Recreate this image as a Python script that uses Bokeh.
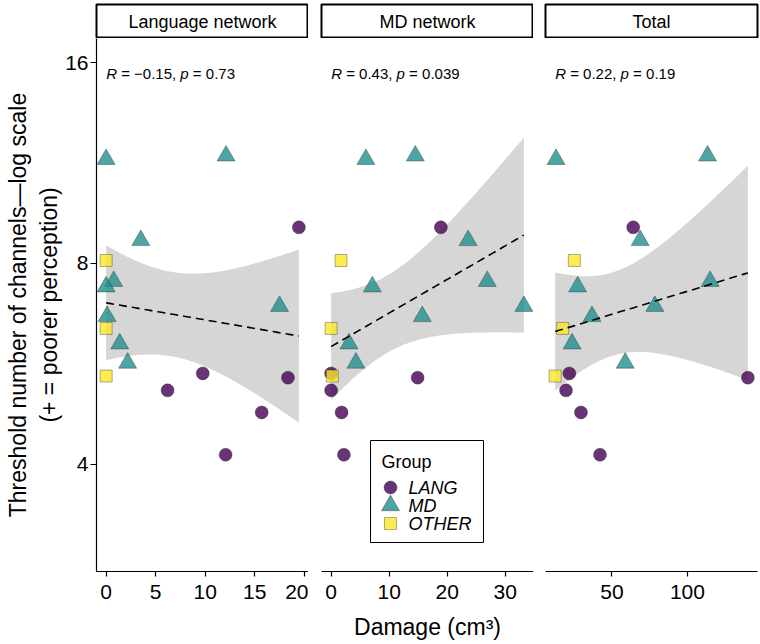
import numpy as np
from bokeh.plotting import figure
from bokeh.layouts import row, column
from bokeh.models import Range1d, FixedTicker, PrintfTickFormatter
from bokeh.core.properties import value
from bokeh.embed import file_html
from bokeh.resources import INLINE

# ---------------- data ----------------
group = ["LANG"] * 6 + ["MD"] * 9 + ["OTHER"] * 3
threshold = [9.06, 5.47, 5.16, 5.39, 4.78, 4.13,
             11.46, 11.6, 8.66, 7.52, 7.38, 6.66, 6.9, 6.06, 5.67,
             8.08, 6.39, 5.42]
damage_lang = [19.45, 9.75, 6.2, 18.35, 15.7, 12.06,
               0.0, 12.1, 3.5, 0.76, 0.0, 0.1, 17.5, 1.37, 2.17,
               0.0, 0.0, 0.0]
damage_md = [18.9, 0.0, 0.0, 14.9, 1.8, 2.2,
             5.98, 14.5, 23.6, 26.9, 7.1, 15.7, 33.2, 3.08, 4.27,
             1.7, 0.0, 0.2]
damage_total = [64.1, 21.8, 19.6, 140.0, 29.5, 42.1,
                13.0, 113.3, 68.7, 115.0, 27.3, 36.8, 78.4, 23.6, 58.8,
                25.1, 17.4, 12.4]
panel_titles = ["Language network", "MD network", "Total"]
r_labels = ["\u22120.15", "0.43", "0.22"]
p_labels = ["0.73", "0.039", "0.19"]
x_tick_sets = [[0, 5, 10, 15, 20], [0, 10, 20, 30], [50, 100]]
y_ticks = [4, 8, 16]
y_limits = [3, 16]
groups = ["LANG", "MD", "OTHER"]
legend_title = "Group"

# ---------------- styling ----------------
FONT = "Liberation Sans"
colors = {"LANG": "#440154", "MD": "#21908C", "OTHER": "#FDE725"}
markers = {"LANG": "circle", "MD": "triangle", "OTHER": "square"}
msize = {"LANG": 13, "MD": 18, "OTHER": 12}
label_y = 15.4
FRAME_W, FRAME_H = 212, 533

# y range: log2 scale with 5% expansion of the limits
l0, l1 = np.log2(y_limits[0]), np.log2(y_limits[1])
ex = 0.05 * (l1 - l0)
y_range = Range1d(2 ** (l0 - ex), 2 ** (l1 + ex))

ARIAL = {' ': 0.278, '=': 0.584, '\u2212': 0.584, '.': 0.278, ',': 0.278,
         'R': 0.722, 'p': 0.556}
for d in "0123456789":
    ARIAL[d] = 0.556


def tw(s, size):
    return sum(ARIAL.get(c, 0.556) for c in s) * size


def fit_band(x, y):
    x = np.asarray(x, float)
    ly = np.log(np.asarray(y, float))
    n = len(x)
    b, a = np.polyfit(x, ly, 1)
    xs = np.linspace(x.min(), x.max(), 120)
    resid = ly - (a + b * x)
    s = np.sqrt(np.sum(resid ** 2) / (n - 2))
    sxx = np.sum((x - x.mean()) ** 2)
    se = s * np.sqrt(1.0 / n + (xs - x.mean()) ** 2 / sxx)
    t = 2.119905  # t(0.975, df=16)
    fit = a + b * xs
    return xs, np.exp(fit), np.exp(fit - t * se), np.exp(fit + t * se)


def style_marks(g):
    return dict(marker=markers[g], size=msize[g], fill_color=colors[g], fill_alpha=0.8,
                line_color="#222222", line_alpha=0.45, line_width=0.8)


damages = [damage_lang, damage_md, damage_total]
borders = [(96, 0), (13, 0), (12, 3)]

columns = []
for i in range(3):
    xd = np.asarray(damages[i], float)
    lo, hi = xd.min(), xd.max()
    pad = 0.05 * (hi - lo)
    xr = Range1d(lo - pad, hi + pad)
    bl, br = borders[i]

    # strip
    s = figure(frame_width=FRAME_W, frame_height=34, x_range=(0, 1), y_range=(0, 1),
               min_border_left=bl, min_border_right=br, min_border_top=4, min_border_bottom=0,
               x_axis_location=None, y_axis_location=None, toolbar_location=None,
               output_backend="svg")
    s.grid.visible = False
    s.outline_line_color = "black"
    s.outline_line_width = 2
    s.text(x=[0.5], y=[0.5], text=[panel_titles[i]], text_align="center", text_baseline="middle",
           text_font=value(FONT), text_font_size="18px", text_color="black")

    # panel
    p = figure(frame_width=FRAME_W, frame_height=FRAME_H, x_range=xr, y_range=y_range,
               y_axis_type="log", min_border_left=bl, min_border_right=br,
               min_border_top=0, min_border_bottom=73, toolbar_location=None,
               y_axis_location="left" if i == 0 else None, output_backend="svg")
    p.grid.visible = False
    p.outline_line_color = None

    xs, fit, lower, upper = fit_band(xd, threshold)
    p.varea(x=xs, y1=lower, y2=upper, fill_color="#999999", fill_alpha=0.4)

    for g in groups:
        idx = [k for k, gg in enumerate(group) if gg == g]
        p.scatter(x=[xd[k] for k in idx], y=[threshold[k] for k in idx], **style_marks(g))

    p.line(xs, fit, line_color="black", line_dash="8 5", line_width=1.6)

    # R / p label pieces
    fs = 15
    x0 = xd.min()
    head = "R = " + r_labels[i] + ", "
    pieces = [("R", 0.0, "italic"),
              ("= " + r_labels[i] + ",", tw("R ", fs), "normal"),
              ("p", tw(head, fs), "italic"),
              ("= " + p_labels[i], tw(head + "p ", fs), "normal")]
    for txt, off, sty in pieces:
        p.text(x=[x0], y=[label_y], text=[txt], x_offset=off, text_align="left",
               text_baseline="middle", text_font=value(FONT), text_font_size=f"{fs}px",
               text_font_style=sty, text_color="black")

    # x axis
    ax = p.xaxis[0]
    ax.ticker = FixedTicker(ticks=x_tick_sets[i])
    ax.axis_line_color = "black"
    ax.axis_line_width = 1.2
    ax.major_tick_line_color = "black"
    ax.major_tick_line_width = 1.2
    ax.major_tick_out = 5
    ax.major_tick_in = 0
    ax.minor_tick_line_color = None
    ax.major_label_text_font = FONT
    ax.major_label_text_font_size = "21px"
    ax.major_label_text_color = "black"
    ax.major_label_standoff = 8
    if i == 1:
        ax.axis_label = "Damage (cm\u00b3)"
        ax.axis_label_text_font = FONT
        ax.axis_label_text_font_size = "23px"
        ax.axis_label_text_font_style = "normal"
        ax.axis_label_text_color = "black"
        ax.axis_label_standoff = 12

    if i == 0:
        ay = p.yaxis[0]
        ay.ticker = FixedTicker(ticks=y_ticks)
        ay.formatter = PrintfTickFormatter(format="%d")
        ay.axis_line_color = "black"
        ay.axis_line_width = 1.2
        ay.major_tick_line_color = "black"
        ay.major_tick_line_width = 1.2
        ay.major_tick_out = 6
        ay.major_tick_in = 0
        ay.minor_tick_line_color = None
        ay.major_label_text_font = FONT
        ay.major_label_text_font_size = "21px"
        ay.major_label_text_color = "black"
        ay.major_label_standoff = 2
        ay.axis_label = "Threshold number of channels\u2014log scale\n(+ = poorer perception)"
        ay.axis_label_text_font = FONT
        ay.axis_label_text_font_size = "23px"
        ay.axis_label_text_font_style = "normal"
        ay.axis_label_text_color = "black"
        ay.axis_label_standoff = 0

    if i == 1:
        # legend box drawn inside the MD panel, placed by frame pixel offsets
        def px2x(px, xr=xr):
            return xr.start + px / FRAME_W * (xr.end - xr.start)

        ly0, ly1 = np.log2(y_range.start), np.log2(y_range.end)

        def py2y(py):
            return 2 ** (ly1 - py / FRAME_H * (ly1 - ly0))

        p.quad(left=[px2x(49)], right=[px2x(162)], top=[py2y(402)], bottom=[py2y(504)],
               fill_color="white", line_color="black", line_width=1)
        p.text(x=[px2x(60)], y=[py2y(423)], text=[legend_title], text_align="left",
               text_baseline="middle", text_font=value(FONT), text_font_size="18px",
               text_color="black")
        for k, g in enumerate(groups):
            yy = py2y(449 + 18 * k)
            p.scatter(x=[px2x(69)], y=[yy], **style_marks(g))
            p.text(x=[px2x(87)], y=[yy], text=[g], text_align="left", text_baseline="middle",
                   text_font=value(FONT), text_font_size="18px", text_font_style="italic",
                   text_color="black")

    columns.append(column(s, p, spacing=0))

layout = row(*columns, spacing=0)
open("out.html", "w").write(file_html(layout, INLINE))
